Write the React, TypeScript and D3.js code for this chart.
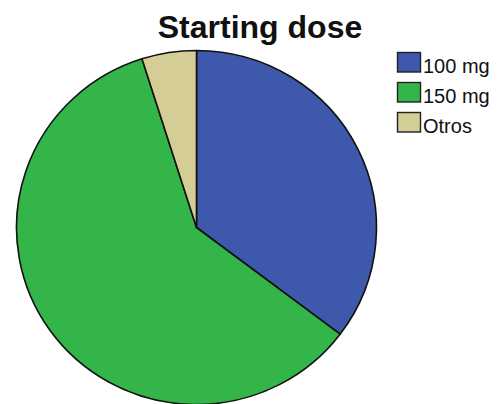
import React from "react";
import * as d3 from "d3";

const categories = ["100 mg", "150 mg", "Otros"];
const values = [35.3, 59.8, 4.9];
const colors = ["#3e58ac", "#33b54a", "#d4cd96"];
const title = "Starting dose";

const W = 502;
const H = 404;

export default function App() {
  const cx = 196.5;
  const cy = 227.5;
  const rx = 180;
  const ry = 177;
  const pie = d3.pie<number>().sort(null).value((d) => d);
  const arcs = pie(values);
  const arc = d3.arc<d3.PieArcDatum<number>>().innerRadius(0).outerRadius(rx);

  const legendY = d3.scaleBand<string>().domain(categories).range([52, 142]).paddingInner(0);

  return (
    <svg
      width={W}
      height={H}
      style={{ position: "absolute", left: 0, top: 0, background: "#fff" }}
      fontFamily="'Liberation Sans', Arial, sans-serif"
    >
      <text x={260} y={38} textAnchor="middle" fontSize={32} fontWeight="bold" fill="#111">
        {title}
      </text>
      <g transform={`translate(${cx},${cy}) scale(1,${ry / rx})`}>
        {arcs.map((a, i) => (
          <path key={i} d={arc(a) || ""} fill={colors[i]} stroke="#111" strokeWidth={1.6} strokeLinejoin="round" />
        ))}
      </g>
      <g>
        {categories.map((c, i) => {
          const y = legendY(c)!;
          return (
            <g key={c}>
              <rect x={397.5} y={y + 0.5} width={23} height={19.5} fill={colors[i]} stroke="#222" strokeWidth={1.4} />
              <text x={423} y={y + 21} fontSize={20} fill="#111">
                {c}
              </text>
            </g>
          );
        })}
      </g>
    </svg>
  );
}
